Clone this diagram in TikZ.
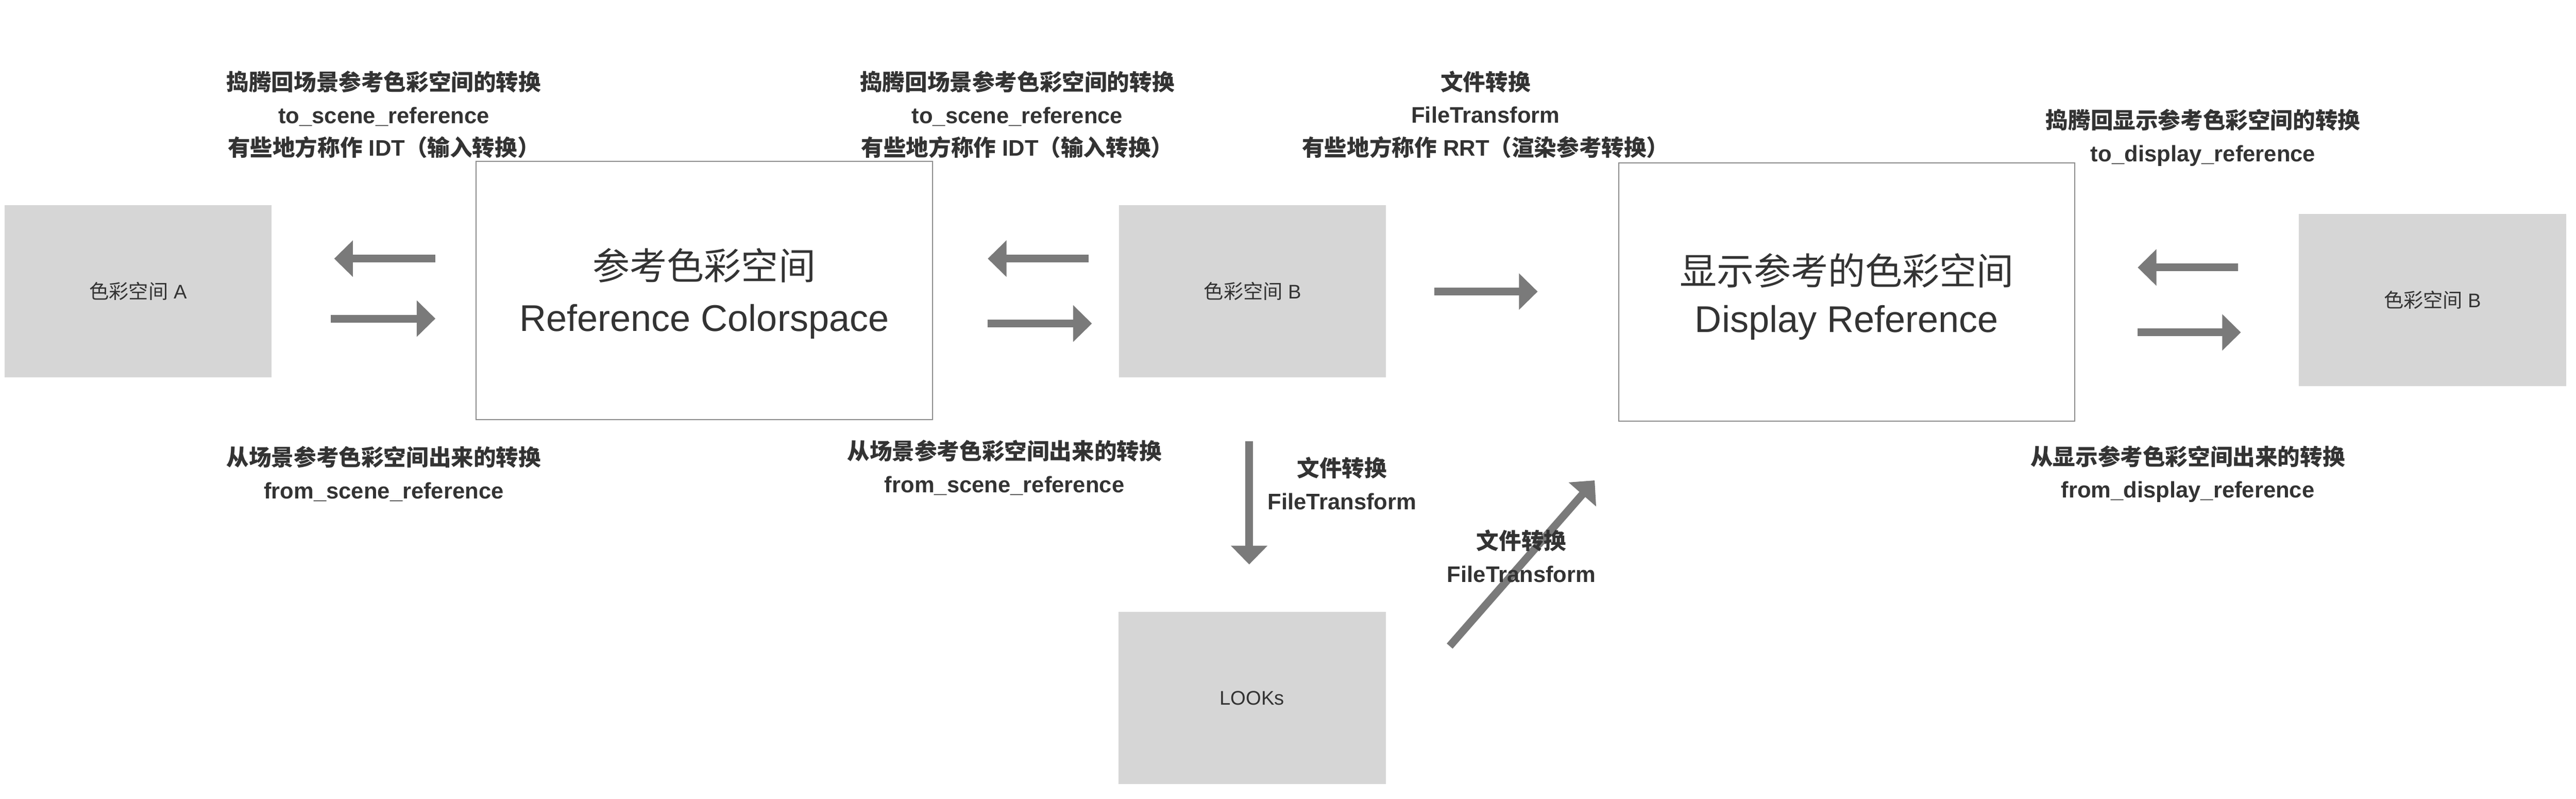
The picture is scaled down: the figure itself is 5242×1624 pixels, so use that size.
\documentclass[tikz,border=0pt]{standalone}
\usepackage{fontspec}
\setmainfont{Liberation Sans}
\newfontfamily\cjk{Noto Sans CJK SC}
\usetikzlibrary{arrows.meta}

\begin{document}
\begin{tikzpicture}[x=0.01cm,y=0.01cm,yscale=-1,xscale=1,
  greybox/.style={fill={rgb, 255:red, 214; green, 214; blue, 214}, inner sep=0pt, outer sep=0pt,
    minimum width=5.43cm, minimum height=3.5cm,
    text={rgb, 255:red, 51; green, 51; blue, 51}, font=\fontsize{11.4}{14}\selectfont},
  whitebox/.style={draw={rgb, 255:red, 140; green, 140; blue, 140}, line width=0.6pt, inner sep=0pt, outer sep=0pt,
    minimum width=9.28cm, minimum height=5.25cm, align=center,
    text={rgb, 255:red, 51; green, 51; blue, 51}},
  fatarrow/.style={draw={rgb, 255:red, 122; green, 122; blue, 122}, line width=4.5pt,
    -{Triangle[length=0.38cm,width=0.72cm]}},
  lbl/.style={align=center, text={rgb, 255:red, 51; green, 51; blue, 51},
    font=\bfseries\fontsize{13}{19}\selectfont}
]
\useasboundingbox (0,0) rectangle (5242,1624);

%Shape: Rectangle
\node [greybox] (spA) at (281,592) {{\cjk 色彩空间} A};
%Shape: Rectangle
\node [whitebox, font=\fontsize{21.5}{30}\selectfont] (ref) at (1433,590.5) {};
\node [text={rgb, 255:red, 51; green, 51; blue, 51}, align=center, font=\fontsize{21.5}{30}\selectfont] (refTxt) at (1433,597) {{\cjk 参考色彩空间}\\Reference Colorspace};
%Shape: Rectangle
\node [greybox] (spB) at (2549,592) {{\cjk 色彩空间} B};
%Shape: Rectangle
\node [whitebox] (disp) at (3758,593.5) {};
\node [text={rgb, 255:red, 51; green, 51; blue, 51}, align=center, font=\fontsize{21.5}{27.5}\selectfont] (dispTxt) at (3758,603) {{\cjk 显示参考的色彩空间}\\Display Reference};
%Shape: Rectangle
\node [greybox] (spC) at (4950,610) {{\cjk 色彩空间} B};
%Shape: Rectangle
\node [greybox] (looks) at (2548,1420) {LOOKs};

%Arrow ends
\coordinate (aL1) at (886,526); \coordinate (aL2) at (680,526);
\coordinate (aR1) at (673,648); \coordinate (aR2) at (886,648);
\coordinate (bL1) at (2215,526); \coordinate (bL2) at (2010,526);
\coordinate (bR1) at (2010,658); \coordinate (bR2) at (2222,658);
\coordinate (cR1) at (2919,593); \coordinate (cR2) at (3129,593);
\coordinate (dL1) at (4554,544); \coordinate (dL2) at (4350,544);
\coordinate (dR1) at (4350,676); \coordinate (dR2) at (4560,676);
\coordinate (lk1) at (2542,897); \coordinate (lk2) at (2542,1148);
\coordinate (lk3) at (2950,1314); \coordinate (lk4) at (3245,977);

%Straight Lines
\draw [fatarrow] (aL1) -- (aL2);
\draw [fatarrow] (aR1) -- (aR2);
\draw [fatarrow] (bL1) -- (bL2);
\draw [fatarrow] (bR1) -- (bR2);
\draw [fatarrow] (cR1) -- (cR2);
\draw [fatarrow] (dL1) -- (dL2);
\draw [fatarrow] (dR1) -- (dR2);
\draw [fatarrow] (lk1) -- (lk2);
\draw [fatarrow] (lk3) -- (lk4);

%Text
\node [lbl] (toA) at (781,233) {{\cjk 捣腾回场景参考色彩空间的转换}\\to\_scene\_reference\\{\cjk 有些地方称作} IDT{\cjk （输入转换）}};
\node [lbl] (fromA) at (781,964) {{\cjk 从场景参考色彩空间出来的转换}\\from\_scene\_reference};
\node [lbl] (toB) at (2070,233) {{\cjk 捣腾回场景参考色彩空间的转换}\\to\_scene\_reference\\{\cjk 有些地方称作} IDT{\cjk （输入转换）}};
\node [lbl] (fromB) at (2044,951) {{\cjk 从场景参考色彩空间出来的转换}\\from\_scene\_reference};
\node [lbl] (rrt) at (3023,233) {{\cjk 文件转换}\\FileTransform\\{\cjk 有些地方称作} RRT{\cjk （渲染参考转换）}};
\node [lbl] (toC) at (4483,280) {{\cjk 捣腾回显示参考色彩空间的转换}\\to\_display\_reference};
\node [lbl] (fromC) at (4452,964) {{\cjk 从显示参考色彩空间出来的转换}\\from\_display\_reference};
\node [lbl] (ftDown) at (2731,983) {{\cjk 文件转换}\\FileTransform};
\node [lbl] (ftUp) at (3096,1131) {{\cjk 文件转换}\\FileTransform};

\end{tikzpicture}
\end{document}
